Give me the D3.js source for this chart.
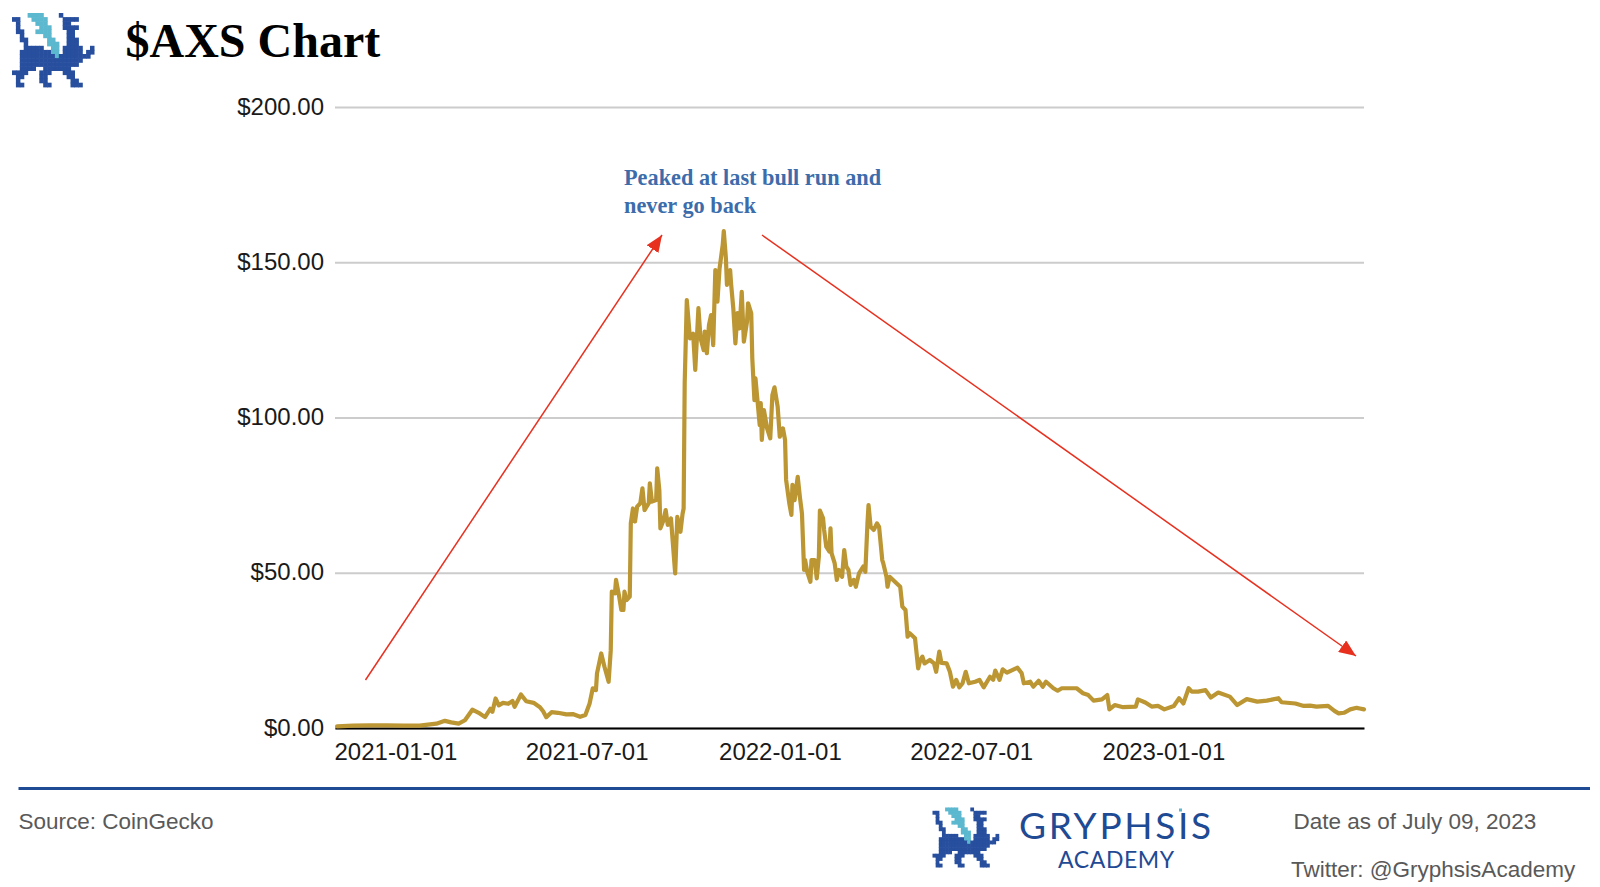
<!DOCTYPE html>
<html>
<head>
<meta charset="utf-8">
<script src="https://cdn.jsdelivr.net/npm/d3@7"></script>
<style>
  html, body { margin: 0; padding: 0; background: #fff; }
  svg { display: block; }
  .sans { font-family: "Liberation Sans", Arial, sans-serif; }
  .serif { font-family: "Liberation Serif", "Times New Roman", serif; font-weight: bold; }
</style>
</head>
<body>
<svg id="chart" width="1600" height="887"></svg>
<script>
//x axis is row based, labels sit on these rows of the sheet
const xTickLabels = ["2021-01-01", "2021-07-01", "2022-01-01", "2022-07-01", "2023-01-01"];
const xTickRows = [0, 181, 364, 545, 727];
const lastRow = 974;
const yTickValues = [0, 50, 100, 150, 200];

//row of each point
const rows = [
  2, 17, 33, 49, 65, 80, 96, 104, 110, 117, 123, 130, 136, 142, 147, 149, 152, 155, 159, 164, 168, 170, 176, 181, 188, 194, 197, 200, 205, 211, 219,
  225, 232, 237, 241, 244, 247, 248, 252, 255, 259, 261, 262, 265, 266, 269, 271, 273, 274, 276, 279, 280, 282, 284, 286, 289, 291, 293, 297, 298, 300, 304, 305, 307, 308, 311, 313, 315, 318, 322, 324, 327, 329, 330,
  331, 333, 336, 339, 341, 344, 346, 349, 350, 352, 354, 356, 358, 360, 362, 364, 367, 368, 370, 371, 374, 375, 377, 379, 381, 383, 385, 387, 390, 391, 394, 395,
  397, 398, 400, 402, 403, 404, 406, 409, 412, 414, 416, 419, 421, 424, 426, 427, 430, 432, 433, 435, 438, 440, 442, 444, 445, 447, 450, 451, 454, 456, 458, 459, 462, 463, 465, 468, 469, 470, 473, 475, 477, 480, 482, 484, 486, 488, 491, 493, 496, 500, 502, 504, 505, 507, 510, 513, 515, 518, 519, 522, 523, 525, 530, 535, 537, 540,
  542, 544, 549, 552, 554, 556, 558, 563, 567, 569, 572, 574, 579, 582, 585, 588, 591, 594, 597, 600, 606, 610, 614, 620, 623, 625, 629, 632, 636, 640, 646, 650, 652, 658, 661, 666, 670, 673, 680, 684, 688, 697, 702, 708, 713, 718, 726, 731, 733, 738, 746, 758, 760, 767, 773, 779, 785, 794, 799, 803, 808, 811, 817, 824, 829, 836, 847, 854, 863, 873, 882, 893, 896, 909, 917, 923, 929, 940, 946, 950, 955, 961, 967, 970, 974
];
//AXS price in USD, same order as rows
const prices = [
  0.5, 0.75, 0.85, 0.85, 0.75, 0.75, 1.4, 2.3, 1.8, 1.4, 2.5, 5.9, 4.9, 3.5, 6.2, 5.2, 9.5, 7.3, 8.1, 7.8, 8.7, 6.8, 10.8, 8.6, 8.1, 6.7, 5.4, 3.5, 5.1, 4.9, 4.4,
  4.5, 3.6, 4.2, 7.9, 12.8, 12.2, 17.6, 24, 19.8, 14.9, 25, 43.9, 43.4, 47.7, 42.3, 38, 38, 43.9, 41.2, 42.3, 65.9, 70.7, 66.5, 71.3, 72.4, 77.2, 70.2, 72.4, 78.8, 72.9, 73.4, 83.6, 76.6, 64.3, 67, 70.2, 65.4, 67.5, 49.8, 68, 63.2, 69, 70.7,
  111, 137.8, 125.5, 127, 115.3, 135.2, 125.5, 121.7, 127.7, 120.7, 129.8, 133, 123.3, 147.5, 137.3, 148, 155.6, 160, 151.3, 142.7, 147.5, 142.7, 135.2, 123.9, 133.6, 128.7, 140.5, 124.4, 130.9, 136.8, 133.5, 119,
  105.6, 112.6, 105.1, 97.6, 104.6, 92.8, 102.4, 96.5, 93.3, 107.2, 109.7, 103.5, 93.8, 96.5, 92.8, 79.9, 72.4, 68.6, 78.3, 73.4, 80.9, 74.5, 69.1, 50.9, 54.1, 50.3, 47.1, 54.1, 54.1, 48.2, 55.2, 70, 67.5, 63.8, 58.4, 56.8, 64.3, 56.3, 53, 47.7, 50.9, 48.7, 57.3, 52, 50.9, 46.1, 47.7, 45.5, 49.8, 52, 50.3, 65.9, 71.8, 64.8, 63.8, 65.9, 64.8, 54.1, 53, 48.7, 45.5, 48.7, 47.1, 45.5, 39.1, 38,
  29.4, 30.5, 28.9, 19.2, 21.9, 23, 20.8, 21.9, 20.8, 18.1, 24.6, 21, 20.8, 18.1, 13.3, 15.5, 13.1, 14.4, 18.1, 14.4, 14.9, 15.5, 13.1, 16.5, 15.5, 18.5, 15.5, 18.9, 17.8, 18.5, 19.4, 17.6, 14.4, 14.9, 13.3, 15.2, 13.3, 14.9, 12.8, 12, 12.8, 12.8, 12.8, 11.2, 10.6, 8.8, 9.2, 10.6, 6, 7.4, 6.7, 6.9, 9.2, 8.2, 6.9, 7.1, 6, 7.1, 9.6, 7.9, 12.8, 11.7, 11.7, 12.2, 9.8, 11.4, 10.1, 7.4, 9.3, 8.5, 8.8, 9.6, 8.3, 7.9, 7.1, 7.2, 6.9, 7.1, 5.5, 4.7, 4.9, 6, 6.5, 6.3, 6
];

//logo pixels, b = blue, t = teal
const logoRows = [
  "....tttt....b",
  "bb...tttt....bbbb",
  ".b....ttt....bb",
  ".b.....ttt...bbbb",
  ".bb...tttt....bb",
  "..b.....tt....bb",
  "..bb.....tt...bbb",
  "...b.....ttt..bbb",
  "...bbbbb..tt.bbbbb..b",
  "..bbbbbbbbtt.bbbbb.bb",
  "..bbbbbbbbbtbbbbbbbb",
  "..bbbbbbbbbbbbbbbb",
  "..bbbbbbbbbbbbbbb",
  "..bbbb..bbbbbbb",
  "bbbb...bbb...bbb",
  ".bb....bb.....bb",
  ".b.....bb......bb",
  ".bb.....bb.....bbb"
];

const svg = d3.select("#chart");
const plotLeft = 335, plotRight = 1364, plotTop = 107, plotBottom = 728;

const xScale = d3.scaleLinear().domain([0, lastRow]).range([plotLeft, plotRight]);
const yScale = d3.scaleLinear().domain([0, 200]).range([plotBottom, plotTop]);

//y axis, ticks stretched across to make the gridlines
const yAxis = d3.axisLeft(yScale)
  .tickValues(yTickValues)
  .tickFormat(d3.format("$.2f"))
  .tickSize(-(plotRight - plotLeft))
  .tickPadding(11);
const yG = svg.append("g")
  .attr("class", "sans")
  .attr("transform", `translate(${plotLeft},0)`)
  .call(yAxis);
yG.select(".domain").remove();
yG.selectAll("line").attr("stroke", "#cccccc").attr("stroke-width", 2);
yG.selectAll("text")
  .attr("font-size", 24)
  .attr("font-family", "Liberation Sans")
  .attr("fill", "#1a1a1a")
  .attr("dy", "0.3em");

//x axis, labels start at the tick
const xAxis = d3.axisBottom(xScale)
  .tickValues(xTickRows)
  .tickFormat((d, i) => xTickLabels[i])
  .tickSize(0)
  .tickPadding(15);
const xG = svg.append("g")
  .attr("class", "sans")
  .attr("transform", `translate(0,${plotBottom})`)
  .call(xAxis);
xG.select(".domain").attr("stroke", "#000").attr("stroke-width", 2);
xG.selectAll("text")
  .attr("font-size", 24)
  .attr("font-family", "Liberation Sans")
  .attr("fill", "#1a1a1a")
  .attr("text-anchor", "start")
  .attr("dx", -1);

//price line
const series = rows.map((d, i) => ({ row: d, price: prices[i] }));
svg.append("path")
  .datum(series)
  .attr("fill", "none")
  .attr("stroke", "#bb9633")
  .attr("stroke-width", 4.2)
  .attr("stroke-linejoin", "round")
  .attr("stroke-linecap", "round")
  .attr("d", d3.line().x(d => xScale(d.row)).y(d => yScale(d.price)));

//red arrows
svg.append("defs").append("marker")
  .attr("id", "arrow-head")
  .attr("markerUnits", "userSpaceOnUse")
  .attr("markerWidth", 18)
  .attr("markerHeight", 14)
  .attr("refX", 17)
  .attr("refY", 7)
  .attr("orient", "auto")
  .append("path")
  .attr("d", "M0,0 L17,7 L0,14 Z")
  .attr("fill", "#e8301f");
const arrows = [
  { x1: 365.5, y1: 680, x2: 662, y2: 235 },
  { x1: 762, y1: 235, x2: 1356, y2: 656 }
];
svg.selectAll(".arrow").data(arrows).enter().append("line")
  .attr("class", "arrow")
  .attr("x1", d => d.x1).attr("y1", d => d.y1)
  .attr("x2", d => d.x2).attr("y2", d => d.y2)
  .attr("stroke", "#e8301f")
  .attr("stroke-width", 1.5)
  .attr("marker-end", "url(#arrow-head)");

//annotation
svg.selectAll(".note").data(["Peaked at last bull run and", "never go back"]).enter().append("text")
  .attr("class", "note serif")
  .attr("x", 624)
  .attr("y", (d, i) => 184.5 + i * 28.5)
  .attr("font-size", 22.3)
  .attr("fill", "#3d6cab")
  .text(d => d);

//title
svg.append("text")
  .attr("class", "serif")
  .attr("x", 125.5)
  .attr("y", 57)
  .attr("font-size", 48)
  .attr("fill", "#000")
  .text("$AXS Chart");

//draws the pixel gryphon
function drawLogo(x, y, w, h) {
  const g = svg.append("g").attr("transform", `translate(${x},${y})`);
  logoRows.forEach((row, r) => {
    row.split("").forEach((c, col) => {
      if (c === ".") return;
      g.append("rect")
        .attr("x", col * w)
        .attr("y", r * h)
        .attr("width", w + 0.6)
        .attr("height", h + 0.6)
        .attr("fill", c === "b" ? "#274f9e" : "#5bb8cf");
    });
  });
}
drawLogo(12, 13, 3.9, 4.1);
drawLogo(932.5, 807.5, 3.15, 3.3);

//footer
svg.append("rect")
  .attr("x", 18.5).attr("y", 787)
  .attr("width", 1571.5).attr("height", 3)
  .attr("fill", "#1f4a94");

const footerTexts = [
  { text: "Source: CoinGecko", x: 18.5, y: 828.5 },
  { text: "Date as of July 09, 2023", x: 1293.5, y: 828.5 },
  { text: "Twitter: @GryphsisAcademy", x: 1291, y: 877 }
];
svg.selectAll(".foot").data(footerTexts).enter().append("text")
  .attr("class", "foot sans")
  .attr("x", d => d.x)
  .attr("y", d => d.y)
  .attr("font-size", 22.5)
  .attr("fill", "#595959")
  .text(d => d.text);

svg.append("text")
  .attr("x", 1019).attr("y", 838.5)
  .attr("font-family", "Lato")
  .attr("font-size", 37)
  .attr("letter-spacing", 2.7)
  .attr("fill", "#1f4a94")
  .text("GRYPHSIS");
svg.append("rect")
  .attr("x", 1179).attr("y", 808.5)
  .attr("width", 3).attr("height", 3)
  .attr("fill", "#5bb8cf");
svg.append("text")
  .attr("x", 1058).attr("y", 867.5)
  .attr("font-family", "Lato")
  .attr("font-size", 23)
  .attr("letter-spacing", 0.6)
  .attr("fill", "#1f4a94")
  .text("ACADEMY");
</script>
</body>
</html>
